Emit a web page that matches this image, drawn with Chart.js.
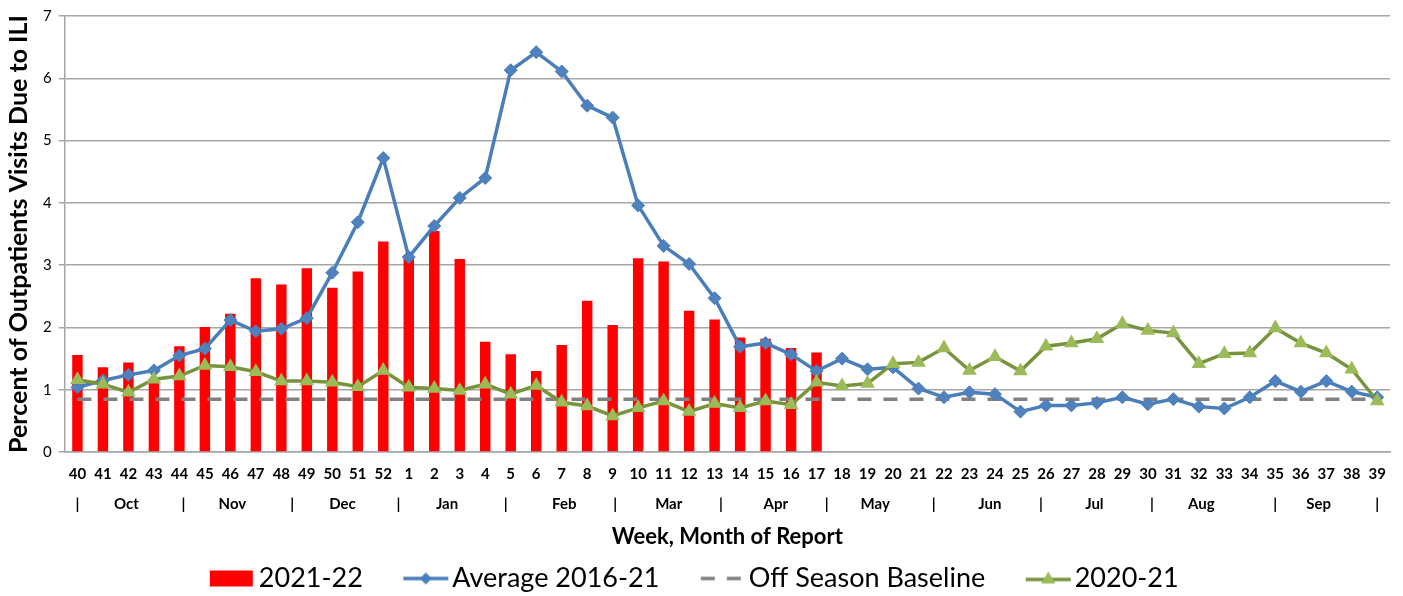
<!DOCTYPE html>
<html>
<head>
<meta charset="utf-8">
<script src="https://cdn.jsdelivr.net/npm/chart.js@4"></script>
<style>
  html, body { margin: 0; padding: 0; background: #fff; }
  #wrap { width: 1403px; height: 596px; }
</style>
</head>
<body>
<div id="wrap"><canvas id="iliChart"></canvas></div>
<script>
// week numbers, season starts at week 40
const weeks = ["40", "41", "42", "43", "44", "45", "46", "47", "48", "49", "50", "51", "52",
    "1", "2", "3", "4", "5", "6", "7", "8", "9", "10", "11", "12", "13", "14", "15", "16", "17",
    "18", "19", "20", "21", "22", "23", "24", "25", "26", "27", "28", "29", "30", "31", "32", "33",
    "34", "35", "36", "37", "38", "39"]

const season2122 = [1.56, 1.36, 1.44, 1.18, 1.70, 2.01, 2.22, 2.79, 2.69, 2.95, 2.64, 2.90, 3.38,
    3.15, 3.55, 3.10, 1.77, 1.57, 1.30, 1.72, 2.43, 2.04, 3.11, 3.06, 2.27, 2.13, 1.84, 1.82, 1.67, 1.60]

const average1621 = [1.04, 1.15, 1.24, 1.31, 1.55, 1.66, 2.12, 1.94, 1.98, 2.15, 2.88, 3.69, 4.72,
    3.13, 3.63, 4.08, 4.40, 6.13, 6.42, 6.11, 5.56, 5.37, 3.96, 3.31, 3.02, 2.47, 1.69, 1.75, 1.57, 1.30,
    1.50, 1.33, 1.36, 1.02, 0.88, 0.96, 0.93, 0.65, 0.75, 0.75, 0.79, 0.88, 0.77, 0.85, 0.73, 0.70,
    0.88, 1.14, 0.97, 1.14, 0.97, 0.88]

const baseline = [0.85, 0.85, 0.85, 0.85, 0.85, 0.85, 0.85, 0.85, 0.85, 0.85, 0.85, 0.85, 0.85,
    0.85, 0.85, 0.85, 0.85, 0.85, 0.85, 0.85, 0.85, 0.85, 0.85, 0.85, 0.85, 0.85, 0.85, 0.85, 0.85, 0.85,
    0.85, 0.85, 0.85, 0.85, 0.85, 0.85, 0.85, 0.85, 0.85, 0.85, 0.85, 0.85, 0.85, 0.85, 0.85, 0.85,
    0.85, 0.85, 0.85, 0.85, 0.85, 0.85]

const season2021 = [1.16, 1.09, 0.96, 1.17, 1.22, 1.39, 1.37, 1.29, 1.14, 1.14, 1.12, 1.05, 1.31,
    1.04, 1.02, 0.99, 1.09, 0.93, 1.07, 0.80, 0.74, 0.58, 0.71, 0.82, 0.65, 0.78, 0.71, 0.82, 0.76, 1.12,
    1.06, 1.10, 1.42, 1.44, 1.67, 1.31, 1.53, 1.30, 1.70, 1.75, 1.82, 2.06, 1.95, 1.91, 1.42, 1.58,
    1.59, 1.99, 1.75, 1.59, 1.33, 0.82]

// second row under the weeks: month names and "|" separators (position in week index)
const monthTickPos = [0, 1.92, 4.16, 6.08, 8.43, 10.4, 12.6, 14.5, 16.8, 19.1, 21.1, 23.2, 25.25,
    27.4, 29.4, 31.3, 33.6, 35.8, 37.8, 39.9, 42.16, 44.1, 47.0, 48.7, 51.0]
const monthTickText = ["|", "Oct", "|", "Nov", "|", "Dec", "|", "Jan", "|", "Feb", "|", "Mar", "|",
    "Apr", "|", "May", "|", "Jun", "|", "Jul", "|", "Aug", "|", "Sep", "|"]

const FONT = "Lato"

// legend icons, drawn in the right part of a wider transparent canvas
function legendIcon(kind) {
    const c = document.createElement('canvas')
    c.width = 101
    c.height = 20
    const g = c.getContext('2d')
    const x0 = 53, x1 = 98, cy = 10, mid = 75.5
    if (kind === 'bar') {
        g.fillStyle = '#FF0000'
        g.fillRect(x0, 2, 43, 16)
    } else if (kind === 'avg') {
        g.strokeStyle = '#4A7EBB'
        g.lineWidth = 3.5
        g.beginPath(); g.moveTo(x0, cy); g.lineTo(x1, cy); g.stroke()
        g.fillStyle = '#4A7EBB'
        g.beginPath()
        g.moveTo(mid, cy - 6); g.lineTo(mid + 6, cy); g.lineTo(mid, cy + 6); g.lineTo(mid - 6, cy)
        g.closePath(); g.fill()
    } else if (kind === 'base') {
        g.strokeStyle = '#808080'
        g.lineWidth = 3.5
        g.beginPath(); g.moveTo(x0 + 1, cy); g.lineTo(x0 + 15, cy); g.stroke()
        g.beginPath(); g.moveTo(x0 + 27, cy); g.lineTo(x0 + 41, cy); g.stroke()
    } else {
        g.strokeStyle = '#77933C'
        g.lineWidth = 3.5
        g.beginPath(); g.moveTo(x0, cy + 1); g.lineTo(x1, cy + 1); g.stroke()
        g.fillStyle = '#9BBB59'
        g.beginPath()
        g.moveTo(mid, cy - 7); g.lineTo(mid + 7, cy + 5); g.lineTo(mid - 7, cy + 5)
        g.closePath(); g.fill()
    }
    return c
}

const icons = [legendIcon('bar'), legendIcon('avg'), legendIcon('base'), legendIcon('green')]

// nudge the legend row to the left (icons carry transparent space on their left)
const legendShift = {
    id: 'legendShift',
    afterLayout(chart) {
        chart.legend.left -= 46
    }
}

const ctx = document.getElementById('iliChart').getContext('2d')

const iliChart = new Chart(ctx, {
    type: 'bar',
    data: {
        labels: weeks,
        datasets: [{
            type: 'bar',
            label: "2021-22",
            data: season2122,
            backgroundColor: "#FF0000",
            barPercentage: 0.41,
            categoryPercentage: 1.0,
            order: 4,
        }, {
            type: 'line',
            label: "Average 2016-21",
            data: average1621,
            borderColor: "#4A7EBB",
            backgroundColor: "#4A7EBB",
            borderWidth: 3.5,
            pointStyle: 'rectRot',
            pointRadius: 6.5,
            pointBorderWidth: 1,
            pointBorderColor: "#4A7EBB",
            pointBackgroundColor: "#4F81BD",
            tension: 0,
            order: 2,
        }, {
            type: 'line',
            label: "Off Season Baseline",
            data: baseline,
            borderColor: "#808080",
            borderWidth: 3.5,
            borderDash: [14, 12],
            pointRadius: 0,
            order: 3,
        }, {
            type: 'line',
            label: "2020-21",
            data: season2021,
            borderColor: "#77933C",
            backgroundColor: "#9BBB59",
            borderWidth: 3.5,
            pointStyle: 'triangle',
            pointRadius: 8.5,
            pointBorderWidth: 0,
            pointBackgroundColor: "#9BBB59",
            tension: 0,
            order: 1,
        }]
    },
    plugins: [legendShift],
    options: {
        responsive: true,
        maintainAspectRatio: false,
        animation: false,
        layout: {
            padding: {left: 4, right: 13, top: -1, bottom: -6}
        },
        plugins: {
            tooltip: {enabled: false},
            legend: {
                position: 'bottom',
                labels: {
                    usePointStyle: true,
                    pointStyleWidth: 76,
                    boxHeight: 20,
                    padding: 0,
                    color: '#000',
                    font: {family: FONT, size: 27},
                    generateLabels: (chart) => chart.data.datasets.map((ds, i) => ({
                        text: ds.label,
                        pointStyle: icons[i],
                        datasetIndex: i,
                        lineWidth: 0,
                        fontColor: '#000',
                    }))
                }
            }
        },
        scales: {
            x: {
                type: 'category',
                position: 'bottom',
                weight: 0,
                offset: true,
                grid: {display: false, drawTicks: false},
                border: {display: true, color: '#A6A6A6', width: 1.5},
                ticks: {
                    autoSkip: false,
                    maxRotation: 0,
                    padding: 15,
                    color: '#000',
                    font: {family: FONT, size: 15, weight: 'bold', lineHeight: 0.9}
                }
            },
            x2: {
                type: 'linear',
                position: 'bottom',
                weight: 1,
                offset: false,
                min: -0.5,
                max: 51.5,
                grid: {display: false, drawTicks: false, offset: false},
                border: {display: false},
                afterBuildTicks: (scale) => {
                    scale.ticks = monthTickPos.map(v => ({value: v}))
                },
                ticks: {
                    autoSkip: false,
                    maxRotation: 0,
                    padding: 0,
                    color: '#000',
                    font: {family: FONT, size: 15, weight: 'bold'},
                    callback: (value, index) => monthTickText[index]
                },
                title: {
                    display: true,
                    text: 'Week, Month of Report',
                    color: '#000',
                    font: {family: FONT, size: 22, weight: 'bold'},
                    padding: {top: 10, bottom: 15}
                }
            },
            y: {
                min: 0,
                max: 7,
                ticks: {
                    stepSize: 1,
                    padding: 7,
                    color: '#000',
                    font: {family: FONT, size: 15}
                },
                grid: {color: '#A6A6A6', lineWidth: 1.5, tickLength: 6},
                border: {display: true, color: '#A6A6A6', width: 1.5},
                title: {
                    display: true,
                    text: 'Percent of Outpatients Visits Due to ILI',
                    color: '#000',
                    font: {family: FONT, size: 25, weight: 'bold'},
                    padding: {top: 0, bottom: 2}
                }
            }
        }
    }
})
</script>
</body>
</html>
